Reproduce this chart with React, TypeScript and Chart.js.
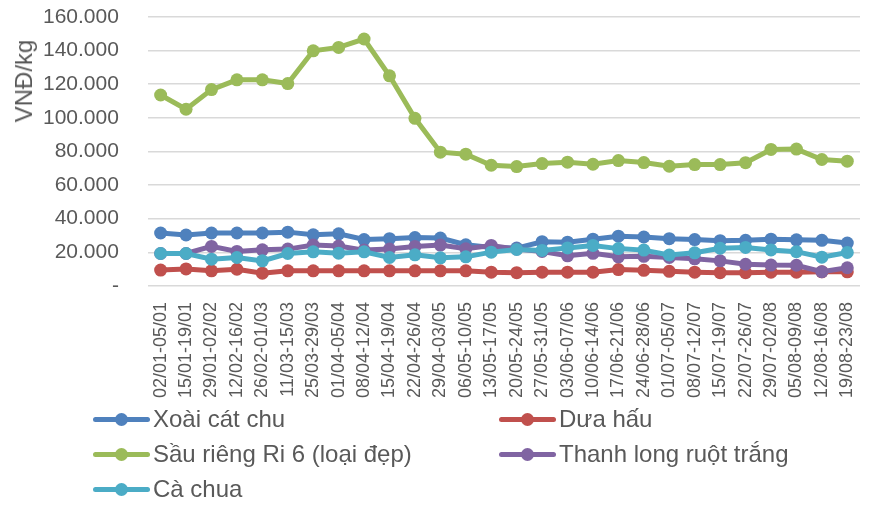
import React, { useEffect, useRef } from "react";
import { Chart, registerables } from "chart.js";

Chart.register(...registerables);

const categories = [
  "02/01-05/01", "15/01-19/01", "29/01-02/02", "12/02-16/02", "26/02-01/03",
  "11/03-15/03", "25/03-29/03", "01/04-05/04", "08/04-12/04", "15/04-19/04",
  "22/04-26/04", "29/04-03/05", "06/05-10/05", "13/05-17/05", "20/05-24/05",
  "27/05-31/05", "03/06-07/06", "10/06-14/06", "17/06-21/06", "24/06-28/06",
  "01/07-05/07", "08/07-12/07", "15/07-19/07", "22/07-26/07", "29/07-02/08",
  "05/08-09/08", "12/08-16/08", "19/08-23/08",
];

const xoaiCatChu = [31500, 30300, 31500, 31500, 31500, 32000, 30400, 31000, 27600, 28100, 28800, 28500, 24500, 22900, 22500, 26300, 26000, 27800, 29600, 29100, 28100, 27600, 26900, 27100, 27800, 27400, 27100, 25500];
const duaHau = [9400, 10100, 9000, 9900, 7600, 9000, 9000, 9000, 9000, 9000, 9000, 9000, 9000, 8200, 7900, 8200, 8200, 8200, 9700, 9300, 8700, 8200, 7900, 7900, 8200, 8200, 8400, 8400];
const sauRieng = [113600, 105100, 116800, 122600, 122600, 120400, 139900, 141900, 146900, 125000, 99700, 79600, 78400, 71800, 71000, 72800, 73600, 72400, 74600, 73400, 71200, 72200, 72200, 73300, 81200, 81400, 75200, 74200];
const thanhLong = [19300, 19300, 23500, 20500, 21500, 21900, 24300, 23700, 21300, 21900, 23500, 24300, 22100, 24100, 21900, 20500, 17900, 19400, 17300, 17600, 16900, 16100, 14900, 12900, 12400, 12300, 8500, 10800];
const caChua = [19300, 19300, 15900, 16900, 14900, 19300, 20300, 19500, 20300, 16900, 18500, 16700, 17300, 20100, 21700, 21100, 22600, 24100, 22200, 21300, 18400, 19700, 22400, 22900, 21400, 20400, 17100, 19900];

const seriesNames = ["Xoài cát chu", "Dưa hấu", "Sầu riêng Ri 6 (loại đẹp)", "Thanh long ruột trắng", "Cà chua"];
const seriesColors = ["#4f81bd", "#c0504d", "#9bbb59", "#8064a2", "#4bacc6"];
const seriesData = [xoaiCatChu, duaHau, sauRieng, thanhLong, caChua];

const yTitle = "VNĐ/kg";
const FONT = "'Liberation Sans', Arial, sans-serif";
const TEXT = "#595959";

function fmt(v: number): string {
  if (v === 0) return "-";
  return String(Math.round(v)).replace(/\B(?=(\d{3})+(?!\d))/g, ".");
}

export default function App() {
  const ref = useRef<HTMLCanvasElement | null>(null);

  useEffect(() => {
    document.body.style.margin = "0";
    const chart = new Chart(ref.current as HTMLCanvasElement, {
      type: "line",
      data: {
        labels: categories,
        datasets: seriesData.map((d, i) => ({
          label: seriesNames[i],
          data: d,
          borderColor: seriesColors[i],
          backgroundColor: seriesColors[i],
          borderWidth: 5,
          pointRadius: 6.5,
          pointHoverRadius: 6.5,
          pointBorderWidth: 0,
          tension: 0,
          order: 5 - i,
        })),
      },
      options: {
        responsive: false,
        animation: false,
        layout: { autoPadding: false, padding: { top: 17, left: 40, right: 11, bottom: 119 } },
        plugins: { legend: { display: false }, tooltip: { enabled: false } },
        scales: {
          x: {
            offset: true,
            grid: { display: false },
            border: { display: false },
            afterFit: (s: any) => {
              s.paddingLeft = 0;
              s.paddingRight = 0;
            },
            ticks: {
              minRotation: 90,
              maxRotation: 90,
              autoSkip: false,
              padding: 8,
              color: TEXT,
              font: { family: FONT, size: 18 },
            },
          },
          y: {
            min: 0,
            max: 160000,
            grid: { color: "#d9d9d9", lineWidth: 1.5, drawTicks: true, tickLength: 26, tickColor: "rgba(0,0,0,0)" },
            border: { display: false },
            ticks: {
              stepSize: 20000,
              padding: 3,
              color: TEXT,
              font: { family: FONT, size: 21 },
              callback: (v: any) => fmt(Number(v)),
            },
          },
        },
      },
    });
    return () => chart.destroy();
  }, []);

  const legendPos = [
    { x: 93, y: 419 },
    { x: 499, y: 419 },
    { x: 93, y: 454 },
    { x: 499, y: 454 },
    { x: 93, y: 489 },
  ];

  return (
    <div style={{ position: "relative", width: 871, height: 525, background: "#fff", fontFamily: FONT }}>
      <canvas ref={ref} width={871} height={525} style={{ position: "absolute", left: 0, top: 0 }} />
      <div
        style={{
          position: "absolute",
          left: 24,
          top: 81,
          transform: "translate(-50%, -50%) rotate(-90deg)",
          fontSize: 24,
          color: TEXT,
          whiteSpace: "nowrap",
          lineHeight: 1,
        }}
      >
        {yTitle}
      </div>
      {seriesNames.map((name, i) => (
        <div
          key={name}
          style={{
            position: "absolute",
            left: legendPos[i].x,
            top: legendPos[i].y - 15,
            height: 30,
            display: "flex",
            alignItems: "center",
            whiteSpace: "nowrap",
          }}
        >
          <div style={{ position: "relative", width: 57, height: 30, marginRight: 3 }}>
            <div
              style={{
                position: "absolute",
                left: 0,
                top: 12.5,
                width: 57,
                height: 5,
                borderRadius: 2.5,
                background: seriesColors[i],
              }}
            />
            <div
              style={{
                position: "absolute",
                left: 22,
                top: 8.5,
                width: 13,
                height: 13,
                borderRadius: "50%",
                background: seriesColors[i],
              }}
            />
          </div>
          <span style={{ fontSize: 24, color: TEXT }}>{name}</span>
        </div>
      ))}
    </div>
  );
}
